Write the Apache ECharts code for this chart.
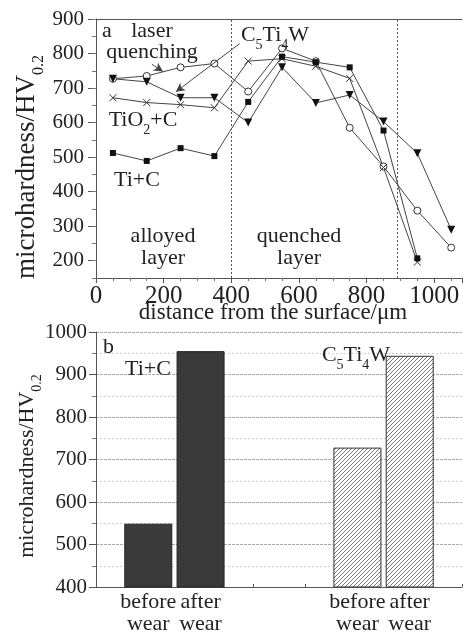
<!DOCTYPE html>
<html>
<head>
<meta charset="utf-8">
<script src="https://cdn.jsdelivr.net/npm/echarts@6/dist/echarts.min.js"></script>
<style>html,body{margin:0;padding:0;background:#fff;}#c{width:465px;height:635px;}</style>
</head>
<body>
<div id="c"></div>
<script>
// ---- data (panel a) ----
const distances = [50,150,250,350,450,550,650,750,850,950,1050];
const laserQuenching = [727,735,760,771,690,815,778,585,473,345,238];
const c5ti4w = [727,718,672,672,600,760,657,680,603,511,290];
const tio2c = [672,658,652,643,778,785,763,728,470,196];
const tic = [512,489,526,503,660,791,775,760,577,207];
const xTicksTop = [0,200,400,600,800,1000];
const yTicksTop = [200,300,400,500,600,700,800,900];
const layerBounds = [400,890];
// ---- data (panel b) ----
const wearCategories = ['before\nwear','after\nwear'];
const ticWear = [549,955];
const c5Wear = [728,944];
const yTicksBottom = [400,500,600,700,800,900,1000];

const FONT = '"Liberation Serif","Times New Roman",serif';
const TXT = '#222';
const LINE = '#444';

function pairs(xs, ys){ return ys.map((v,i)=>[xs[i], v]); }

// slots on bottom category axis
const slots = ['', wearCategories[0], wearCategories[1], '', '', wearCategories[0], wearCategories[1], ''];
const ticBar = slots.map(()=>null); ticBar[1]=ticWear[0]; ticBar[2]=ticWear[1];
const c5Bar = slots.map(()=>null); c5Bar[5]=c5Wear[0]; c5Bar[6]=c5Wear[1];

// hatch pattern
const pc = document.createElement('canvas');
pc.width = 4; pc.height = 4;
const px = pc.getContext('2d');
px.fillStyle = '#fff'; px.fillRect(0,0,4,4);
px.strokeStyle = '#555'; px.lineWidth = 0.8;
px.beginPath();
px.moveTo(-1,5); px.lineTo(5,-1);
px.moveTo(-1,1); px.lineTo(1,-1);
px.moveTo(3,5); px.lineTo(5,3);
px.stroke();

const chart = echarts.init(document.getElementById('c'), null, {renderer:'canvas'});

function txt(text, x, y, size, opts){
  opts = opts || {};
  return {
    type:'text', x:x, y:y, rotation: opts.rotation || 0, z: 100,
    style: Object.assign({
      text: text, font: size + 'px ' + FONT, fill: TXT,
      align: opts.align || 'center', verticalAlign: 'middle',
      lineHeight: opts.lineHeight || size
    }, opts.rich ? {rich: opts.rich} : {})
  };
}
function subRich(big, small){
  return {
    n:{fontSize:big, fontFamily:FONT, fill:TXT, verticalAlign:'top', lineHeight:big+6},
    s:{fontSize:small, fontFamily:FONT, fill:TXT, verticalAlign:'bottom', lineHeight:big+6}
  };
}

const axisLineStyle = {color:'#555', width:1};
const plain = function(v){ return String(v); };

const option = {
  animation:false,
  backgroundColor:'#fff',
  grid:[
    {left:96, top:19, right:0, height:259},
    {left:96, top:332, width:372, height:258}
  ],
  xAxis:[
    {gridIndex:0, type:'value', min:0, max:1082, interval:200,
     axisLine:{lineStyle:axisLineStyle},
     axisTick:{length:5, lineStyle:{color:'#555'}},
     minorTick:{show:true, splitNumber:4, length:3, lineStyle:{color:'#777'}},
     splitLine:{show:false},
     axisLabel:{color:TXT, fontFamily:FONT, fontSize:25, margin:6,
       formatter:function(v){ return xTicksTop.indexOf(v)>=0 ? String(v) : ''; }}
    },
    {gridIndex:0, type:'value', position:'top', min:0, max:1082,
     axisLine:{show:true, lineStyle:axisLineStyle}, axisTick:{show:false},
     axisLabel:{show:false}, splitLine:{show:false}},
    {gridIndex:1, type:'category', data:slots, boundaryGap:false,
     axisLine:{lineStyle:axisLineStyle},
     axisTick:{inside:true, length:3, lineStyle:{color:'#555'}},
     splitLine:{show:false},
     axisLabel:{color:TXT, fontFamily:FONT, fontSize:22, lineHeight:22, margin:4, interval:0}
    }
  ],
  yAxis:[
    {gridIndex:0, type:'value', min:150, max:900, interval:50,
     axisLine:{show:true, lineStyle:axisLineStyle},
     axisTick:{show:true, length:8, customValues:yTicksTop, lineStyle:{color:'#555'}},
     splitLine:{show:false},
     axisLabel:{color:TXT, fontFamily:FONT, fontSize:21, margin:12, customValues:yTicksTop, formatter:plain}
    },
    {gridIndex:0, type:'value', min:150, max:900, interval:50, position:'left',
     axisLine:{show:false}, axisTick:{show:true, length:4, lineStyle:{color:'#777'}},
     axisLabel:{show:false}, splitLine:{show:false}},
    {gridIndex:1, type:'value', min:400, max:1000, interval:100,
     axisLine:{show:true, lineStyle:axisLineStyle},
     axisTick:{show:true, length:7, lineStyle:{color:'#555'}},
     minorTick:{show:true, splitNumber:2, length:4, lineStyle:{color:'#777'}},
     splitLine:{show:true, lineStyle:{color:'#aaa', type:[3,1], width:1}},
     minorSplitLine:{show:true, lineStyle:{color:'#cfcfcf', type:[2,2], width:1}},
     axisLabel:{color:TXT, fontFamily:FONT, fontSize:21, margin:9, customValues:yTicksBottom, formatter:plain}
    }
  ],
  series:[
    {type:'line', name:'laser quenching', xAxisIndex:0, yAxisIndex:0,
     data:pairs(distances, laserQuenching),
     symbol:'circle', symbolSize:7,
     lineStyle:{color:LINE, width:1},
     itemStyle:{color:'#fff', borderColor:'#333', borderWidth:1},
     markLine:{silent:true, symbol:['none','arrow'], symbolSize:[7,9],
       label:{show:false}, lineStyle:{color:LINE, type:'solid', width:1},
       data:[[{coord:[165,769]},{coord:[198,748]}]]}
    },
    {type:'line', name:'C5Ti4W', xAxisIndex:0, yAxisIndex:0,
     data:pairs(distances, c5ti4w),
     symbol:'triangle', symbolRotate:180, symbolSize:8,
     lineStyle:{color:LINE, width:1},
     itemStyle:{color:'#111'},
     markLine:{silent:true, symbol:['none','arrow'], symbolSize:[7,9],
       label:{show:false}, lineStyle:{color:LINE, type:'solid', width:1},
       data:[[{coord:[425,829]},{coord:[236,689]}]]}
    },
    {type:'line', name:'TiO2+C', xAxisIndex:0, yAxisIndex:0,
     data:pairs(distances, tio2c),
     symbol:'path://M0,0L10,10M10,0L0,10', symbolSize:7,
     lineStyle:{color:LINE, width:1},
     itemStyle:{color:'#333', borderColor:'#333', borderWidth:1}
    },
    {type:'line', name:'Ti+C', xAxisIndex:0, yAxisIndex:0,
     data:pairs(distances, tic),
     symbol:'rect', symbolSize:6,
     lineStyle:{color:LINE, width:1},
     itemStyle:{color:'#111'},
     markLine:{silent:true, symbol:'none', label:{show:false},
       lineStyle:{color:'#555', type:[2,2], width:1},
       data:layerBounds.map(v=>({xAxis:v}))}
    },
    {type:'bar', name:'Ti+C wear', xAxisIndex:2, yAxisIndex:2,
     data:ticBar, barWidth:48, barGap:'-100%',
     itemStyle:{color:'#3a3a3a', borderColor:'#222', borderWidth:1}
    },
    {type:'bar', name:'C5Ti4W wear', xAxisIndex:2, yAxisIndex:2,
     data:c5Bar, barWidth:48, barGap:'-100%',
     itemStyle:{color:{image:pc, repeat:'repeat'}, borderColor:'#333', borderWidth:1}
    }
  ],
  graphic:[
    txt('{n|microhardness/HV}{s|0.2}', 30, 167, 27, {rotation:Math.PI/2, rich:subRich(27,16)}),
    txt('{n|microhardness/HV}{s|0.2}', 30, 466, 22, {rotation:Math.PI/2, rich:subRich(22,14)}),
    txt('distance from the surface/\u03bcm', 273, 313, 23),
    txt('a', 102, 31, 22, {align:'left'}),
    txt('laser', 152, 31, 22),
    txt('quenching', 152, 52, 22),
    txt('{n|C}{s|5}{n|Ti}{s|4}{n|W}', 275, 38, 22, {rich:subRich(22,14)}),
    txt('{n|TiO}{s|2}{n|+C}', 143, 123, 22, {rich:subRich(22,14)}),
    txt('Ti+C', 137, 180, 22),
    txt('alloyed\nlayer', 163, 247, 22, {lineHeight:22}),
    txt('quenched\nlayer', 299, 247, 22, {lineHeight:22}),
    txt('b', 103, 347, 22, {align:'left'}),
    txt('Ti+C', 148, 369, 22),
    txt('{n|C}{s|5}{n|Ti}{s|4}{n|W}', 356, 358, 22, {rich:subRich(22,14)})
  ]
};
chart.setOption(option);
</script>
</body>
</html>
